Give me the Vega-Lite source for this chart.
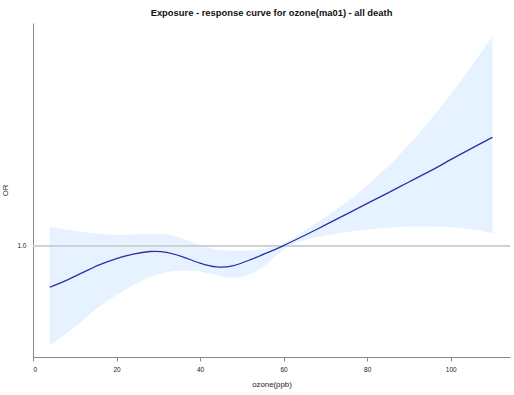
{
  "$schema": "https://vega.github.io/schema/vega-lite/v6.json",
  "width": 477,
  "height": 334,
  "autosize": {"type": "none"},
  "padding": {"left": 33, "top": 23, "right": 4, "bottom": 38},
  "background": "white",
  "title": {
    "text": "Exposure - response curve for ozone(ma01) - all death",
    "font": "Liberation Sans",
    "fontSize": 9.4,
    "fontWeight": "bold",
    "color": "#111111",
    "anchor": "middle",
    "offset": 5
  },
  "config": {
    "view": {"stroke": null},
    "axis": {
      "labelFont": "Liberation Sans",
      "titleFont": "Liberation Sans",
      "labelFontSize": 6.5,
      "titleFontSize": 7.8,
      "titleFontWeight": "normal",
      "labelColor": "#222222",
      "titleColor": "#222222",
      "domainColor": "#888888",
      "tickColor": "#888888",
      "grid": false
    }
  },
  "data": {
    "values": [
      {"ozone": 4, "or": 0.944, "lo": 0.866, "hi": 1.025},
      {"ozone": 8, "or": 0.953, "lo": 0.881, "hi": 1.022},
      {"ozone": 12, "or": 0.964, "lo": 0.900, "hi": 1.018},
      {"ozone": 16, "or": 0.975, "lo": 0.919, "hi": 1.016},
      {"ozone": 20, "or": 0.983, "lo": 0.934, "hi": 1.014},
      {"ozone": 24, "or": 0.989, "lo": 0.947, "hi": 1.015},
      {"ozone": 28, "or": 0.993, "lo": 0.958, "hi": 1.016},
      {"ozone": 32, "or": 0.992, "lo": 0.965, "hi": 1.016},
      {"ozone": 36, "or": 0.985, "lo": 0.967, "hi": 1.010},
      {"ozone": 40, "or": 0.976, "lo": 0.966, "hi": 1.000},
      {"ozone": 44, "or": 0.970, "lo": 0.960, "hi": 0.994},
      {"ozone": 48, "or": 0.972, "lo": 0.955, "hi": 0.993},
      {"ozone": 52, "or": 0.981, "lo": 0.960, "hi": 0.993},
      {"ozone": 56, "or": 0.990, "lo": 0.974, "hi": 0.996},
      {"ozone": 60, "or": 1.000, "lo": 0.997, "hi": 1.001},
      {"ozone": 64, "or": 1.011, "lo": 1.006, "hi": 1.017},
      {"ozone": 68, "or": 1.022, "lo": 1.012, "hi": 1.031},
      {"ozone": 72, "or": 1.034, "lo": 1.016, "hi": 1.046},
      {"ozone": 76, "or": 1.045, "lo": 1.019, "hi": 1.062},
      {"ozone": 80, "or": 1.057, "lo": 1.022, "hi": 1.081},
      {"ozone": 85, "or": 1.071, "lo": 1.024, "hi": 1.106},
      {"ozone": 90, "or": 1.086, "lo": 1.026, "hi": 1.136},
      {"ozone": 95, "or": 1.100, "lo": 1.026, "hi": 1.168},
      {"ozone": 100, "or": 1.116, "lo": 1.025, "hi": 1.203},
      {"ozone": 105, "or": 1.131, "lo": 1.022, "hi": 1.242},
      {"ozone": 110, "or": 1.146, "lo": 1.017, "hi": 1.282}
    ]
  },
  "layer": [
    {
      "mark": {"type": "area", "color": "#e6f2ff", "interpolate": "basis"},
      "encoding": {
        "x": {
          "field": "ozone",
          "type": "quantitative",
          "title": "ozone(ppb)",
          "scale": {"domain": [0, 114.2], "nice": false, "zero": false},
          "axis": {"values": [0, 20, 40, 60, 80, 100], "tickSize": 4, "labelPadding": 5, "titlePadding": 8}
        },
        "y": {
          "field": "lo",
          "type": "quantitative",
          "title": "OR",
          "scale": {"domain": [0.85, 1.30], "nice": false, "zero": false},
          "axis": {"values": [1.0], "format": ".1f", "ticks": false, "labelPadding": 7, "titlePadding": 7}
        },
        "y2": {"field": "hi"}
      }
    },
    {
      "mark": {"type": "rule", "color": "#cfcfcf", "strokeWidth": 1},
      "encoding": {"y": {"datum": 1.0, "type": "quantitative"}}
    },
    {
      "mark": {"type": "line", "color": "#2e2eaa", "strokeWidth": 1.3, "interpolate": "basis"},
      "encoding": {
        "x": {"field": "ozone", "type": "quantitative"},
        "y": {"field": "or", "type": "quantitative"}
      }
    }
  ]
}
